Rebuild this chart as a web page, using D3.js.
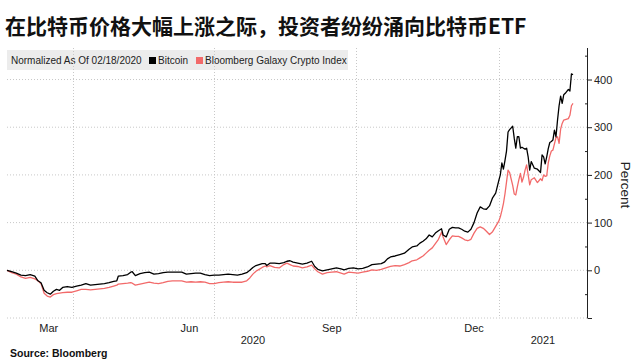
<!DOCTYPE html>
<html>
<head>
<meta charset="utf-8">
<script src="https://cdn.jsdelivr.net/npm/d3@7"></script>
<style>
  html, body { margin: 0; padding: 0; background: #fff; }
  svg { display: block; }
</style>
</head>
<body>
<svg id="chart" width="640" height="364"></svg>
<script>
const titleText = "在比特币价格大幅上涨之际，投资者纷纷涌向比特币ETF";
const legendNote = "Normalized As Of 02/18/2020";
const seriesNames = ["Bitcoin", "Bloomberg Galaxy Crypto Index"];
const sourceText = "Source: Bloomberg";
const axisTitle = "Percent";
const monthLabels = [["2020-03-16", "Mar"], ["2020-06-15", "Jun"], ["2020-09-15", "Sep"], ["2020-12-16", "Dec"]];
const yearLabels = ["2020", "2021"];
const gridDates = ["2020-04-01", "2020-07-01", "2020-10-01", "2021-01-01"];
const yTicks = [-100, 0, 100, 200, 300, 400];
const yTickLabels = [0, 100, 200, 300, 400];

const dates = [
"2020-02-18","2020-02-21","2020-02-24","2020-02-27","2020-03-01","2020-03-04","2020-03-07","2020-03-09","2020-03-11","2020-03-13",
"2020-03-15","2020-03-17","2020-03-19","2020-03-21","2020-03-23","2020-03-25","2020-03-28","2020-03-31","2020-04-03","2020-04-06",
"2020-04-09","2020-04-12","2020-04-15","2020-04-18","2020-04-21","2020-04-24","2020-04-27","2020-04-29","2020-04-30","2020-05-03",
"2020-05-06","2020-05-08","2020-05-09","2020-05-11","2020-05-14","2020-05-17","2020-05-20","2020-05-23","2020-05-26","2020-05-29",
"2020-06-01","2020-06-04","2020-06-07","2020-06-10","2020-06-13","2020-06-16","2020-06-19","2020-06-22","2020-06-25","2020-06-28",
"2020-07-01","2020-07-04","2020-07-07","2020-07-10","2020-07-13","2020-07-16","2020-07-19","2020-07-22","2020-07-24","2020-07-26",
"2020-07-28","2020-07-30","2020-08-01","2020-08-03","2020-08-04","2020-08-06","2020-08-09","2020-08-12","2020-08-15","2020-08-17",
"2020-08-19","2020-08-21","2020-08-24","2020-08-27","2020-08-30","2020-09-02","2020-09-04","2020-09-06","2020-09-09","2020-09-12",
"2020-09-15","2020-09-18","2020-09-21","2020-09-23","2020-09-26","2020-09-29","2020-10-02","2020-10-05","2020-10-08","2020-10-11",
"2020-10-14","2020-10-17","2020-10-19","2020-10-21","2020-10-23","2020-10-26","2020-10-29","2020-11-01","2020-11-04","2020-11-06",
"2020-11-09","2020-11-11","2020-11-13","2020-11-15","2020-11-17","2020-11-19","2020-11-21","2020-11-23","2020-11-25","2020-11-26",
"2020-11-28","2020-11-30","2020-12-02","2020-12-04","2020-12-06","2020-12-08","2020-12-10","2020-12-12","2020-12-14","2020-12-16",
"2020-12-18","2020-12-20","2020-12-22","2020-12-24","2020-12-26","2020-12-28","2020-12-30","2021-01-01","2021-01-02","2021-01-03",
"2021-01-04","2021-01-05","2021-01-06","2021-01-07","2021-01-08","2021-01-10","2021-01-11","2021-01-12","2021-01-13","2021-01-14",
"2021-01-15","2021-01-16","2021-01-17","2021-01-18","2021-01-19","2021-01-20","2021-01-21","2021-01-22","2021-01-24","2021-01-26",
"2021-01-28","2021-01-29","2021-01-30","2021-01-31","2021-02-01","2021-02-02","2021-02-03","2021-02-04","2021-02-05","2021-02-06",
"2021-02-07","2021-02-08","2021-02-09","2021-02-10","2021-02-11","2021-02-12","2021-02-13","2021-02-14","2021-02-15","2021-02-16",
"2021-02-17","2021-02-18"
];

const bitcoin = [
0,-3,-6,-10,-11,-9,-12,-22,-26,-42,
-47,-50,-44,-40,-42,-36,-34,-36,-33,-31,
-28,-31,-30,-29,-28,-26,-23,-22,-12,-11,
-9,-4,-3,-11,-7,-5,-4,-8,-7,-5,
-4,-4,-4,-4,-8,-7,-6,-6,-9,-11,
-10,-10,-9,-8,-9,-10,-8,-5,0,6,
10,12,14,14,10,15,15,14,16,19,
20,17,15,13,15,19,8,2,-1,1,
3,5,3,1,4,5,3,4,7,12,
13,14,17,24,28,30,33,36,44,49,
51,57,61,66,74,70,78,83,87,74,
70,86,90,89,89,86,82,80,86,100,
120,133,129,128,135,152,162,188,200,225,
212,230,250,290,295,302,277,256,280,280,
256,258,256,254,256,238,210,228,214,212,
205,242,238,223,238,255,268,270,273,294,
280,315,345,365,350,368,371,375,379,376,
412,410
];

const galaxy = [
0,-5,-8,-14,-17,-15,-18,-22,-28,-48,
-54,-56,-51,-49,-48,-47,-46,-46,-43,-40,
-40,-41,-40,-39,-38,-36,-33,-31,-29,-28,
-27,-26,-27,-31,-29,-27,-25,-27,-28,-26,
-23,-22,-22,-22,-25,-24,-25,-24,-25,-28,
-28,-26,-25,-24,-25,-25,-25,-22,-16,-8,
-2,2,6,9,7,10,6,5,12,15,
12,9,8,5,7,11,3,-3,-8,-5,
-4,-3,-6,-8,-4,-5,-6,-4,-2,1,
0,2,4,6,8,10,9,12,16,20,
22,26,30,36,42,47,56,65,80,70,
54,64,72,71,71,68,64,62,65,78,
88,91,88,82,75,81,92,103,112,125,
140,160,185,210,205,178,160,158,175,190,
203,185,195,210,221,200,179,190,194,184,
192,188,200,197,198,225,240,250,252,265,
278,280,266,296,308,315,316,317,318,325,
345,350
];

const colors = { btc: "#000000", gal: "#f26a6a" };
const fontSans = "'Liberation Sans', Arial, sans-serif";

const parse = d3.timeParse("%Y-%m-%d");
const svg = d3.select("#chart");

const plotLeft = 7, plotRight = 587, plotTop = 48, plotBottom = 318;

const x = d3.scaleTime()
  .domain([parse(dates[0]), parse(dates[dates.length - 1])])
  .range([7, 573]);
const y = d3.scaleLinear().domain([-100, 460]).range([318, 50.9]);

// Title
svg.append("text")
  .attr("x", 5).attr("y", 34)
  .attr("font-family", "'Noto Sans CJK SC', sans-serif")
  .attr("font-weight", 700)
  .attr("font-size", 21)
  .attr("fill", "#111")
  .text(titleText);

// Legend box
const legend = svg.append("g");
legend.append("rect")
  .attr("x", 7).attr("y", 50).attr("width", 341).attr("height", 20)
  .attr("fill", "#ececec");

// Gridlines horizontal
svg.append("g").selectAll("line").data(yTicks).join("line")
  .attr("x1", plotLeft).attr("x2", plotRight)
  .attr("y1", d => y(d)).attr("y2", d => y(d))
  .attr("stroke", "#c8c8c8").attr("stroke-width", 1)
  .attr("stroke-dasharray", "1,2");

// Gridlines vertical
svg.append("g").selectAll("line").data(gridDates).join("line")
  .attr("x1", d => Math.round(x(parse(d))) + 0.5).attr("x2", d => Math.round(x(parse(d))) + 0.5)
  .attr("y1", plotTop).attr("y2", plotBottom)
  .attr("stroke", "#c8c8c8").attr("stroke-width", 1)
  .attr("stroke-dasharray", "1,2");

// Legend content
legend.append("text")
  .attr("x", 11).attr("y", 64)
  .attr("font-family", fontSans).attr("font-size", 10).attr("fill", "#222")
  .text(legendNote);
legend.append("rect").attr("x", 149).attr("y", 57).attr("width", 7).attr("height", 7).attr("fill", colors.btc);
legend.append("text")
  .attr("x", 158).attr("y", 64)
  .attr("font-family", fontSans).attr("font-size", 10).attr("fill", "#222")
  .text(seriesNames[0]);
legend.append("rect").attr("x", 196).attr("y", 57).attr("width", 7).attr("height", 7).attr("fill", colors.gal);
legend.append("text")
  .attr("x", 205).attr("y", 64)
  .attr("font-family", fontSans).attr("font-size", 10).attr("fill", "#222")
  .text(seriesNames[1]);

// Lines
const rows = dates.map((d, i) => ({ date: parse(d), btc: bitcoin[i], gal: galaxy[i] }));
const lineG = d3.line().x(d => x(d.date)).y(d => y(d.gal));
const lineB = d3.line().x(d => x(d.date)).y(d => y(d.btc));
svg.append("path").datum(rows).attr("d", lineG)
  .attr("fill", "none").attr("stroke", colors.gal).attr("stroke-width", 1.3)
  .attr("stroke-linejoin", "round");
svg.append("path").datum(rows).attr("d", lineB)
  .attr("fill", "none").attr("stroke", colors.btc).attr("stroke-width", 1.3)
  .attr("stroke-linejoin", "round");

// Right axis
const yAxis = d3.axisRight(y)
  .tickValues(d3.range(-100, 451, 50))
  .tickSize(4)
  .tickFormat(d => (yTickLabels.includes(d) ? d : ""));
const ag = svg.append("g").attr("transform", `translate(${plotRight},0)`).call(yAxis);
ag.select(".domain").attr("d", `M0.5,${plotTop}V${plotBottom}`).attr("stroke", "#222");
ag.selectAll(".tick line").attr("stroke", "#222")
  .attr("x1", d => (d % 100 === 0 ? 0.5 : -2))
  .attr("x2", d => (d % 100 === 0 ? 5 : 0.5));
ag.selectAll(".tick text")
  .attr("x", 7)
  .attr("font-family", fontSans).attr("font-size", 11).attr("fill", "#222");

// Axis title
svg.append("text")
  .attr("transform", "translate(621,185) rotate(90)")
  .attr("text-anchor", "middle")
  .attr("font-family", fontSans).attr("font-size", 13.5).attr("fill", "#222")
  .text(axisTitle);

// Month labels
svg.append("g").selectAll("text").data(monthLabels).join("text")
  .attr("x", d => x(parse(d[0])))
  .attr("y", 332)
  .attr("text-anchor", "middle")
  .attr("font-family", fontSans).attr("font-size", 11).attr("fill", "#222")
  .text(d => d[1]);

// Year labels centered in the visible span of each year
const yearSpans = [
  [plotLeft, x(parse("2021-01-01"))],
  [x(parse("2021-01-01")), plotRight]
];
svg.append("g").selectAll("text").data(yearLabels).join("text")
  .attr("x", (d, i) => (yearSpans[i][0] + yearSpans[i][1]) / 2)
  .attr("y", 344)
  .attr("text-anchor", "middle")
  .attr("font-family", fontSans).attr("font-size", 11).attr("fill", "#222")
  .text(d => d);

// Source
svg.append("text")
  .attr("x", 10).attr("y", 357)
  .attr("font-family", fontSans).attr("font-weight", 700).attr("font-size", 10.5)
  .attr("fill", "#111")
  .text(sourceText);
</script>
</body>
</html>
